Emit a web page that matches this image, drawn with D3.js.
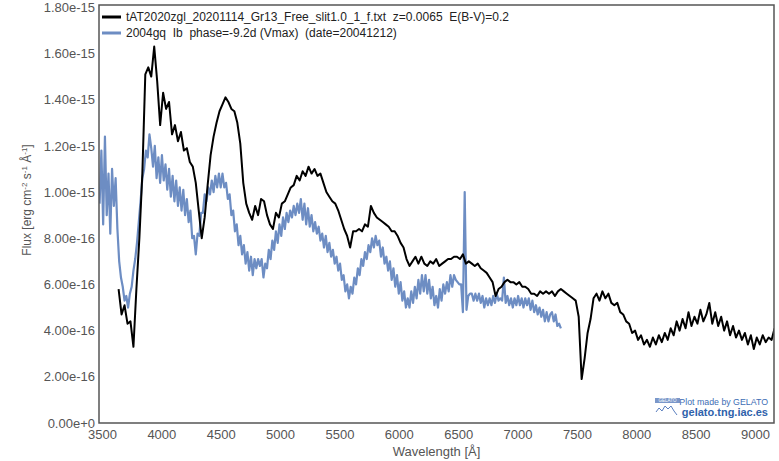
<!DOCTYPE html>
<html>
<head>
<meta charset="utf-8">
<script src="https://cdn.jsdelivr.net/npm/d3@7/dist/d3.min.js"></script>
<style>
  body { margin: 0; background: #fff; }
  svg { display: block; font-family: 'Liberation Sans', Arial, sans-serif; }
</style>
</head>
<body>
<div id="spectrum"></div>
<script>
// flux values below are in units of 1e-16 erg/cm2/s/A
const fluxUnit = 1e-16

const targetLabel = 'tAT2020zgl_20201114_Gr13_Free_slit1.0_1_f.txt  z=0.0065  E(B-V)=0.2'
const templateLabel = '2004gq  Ib  phase=-9.2d (Vmax)  (date=20041212)'

// observed spectrum, sampled every 25 A from 3640 A
const targetStart = 3640
const targetStep = 25
const targetFlux = [
  5.8, 4.7, 5.1, 4.3, 4.4, 3.3, 5.8, 8.0, 10.8, 15.1,
  15.4, 15.0, 16.3, 14.8, 12.9, 14.3, 13.6, 13.9, 12.5, 12.9,
  12.2, 12.6, 11.8, 11.9, 11.3, 11.1, 10.4, 9.2, 8.0, 8.9,
  10.3, 11.6, 12.4, 13.0, 13.5, 13.8, 14.1, 13.9, 13.6, 13.5,
  13.0, 12.1, 10.4, 9.5, 9.1, 8.8, 9.4, 9.0, 9.7, 9.6,
  9.0, 8.6, 8.4, 9.1, 8.9, 9.5, 9.6, 9.9, 10.2, 10.3,
  10.7, 10.5, 10.9, 10.7, 11.1, 10.8, 11.0, 10.7, 10.8, 10.4,
  10.0, 9.8, 9.6, 9.5, 9.2, 8.8, 8.4, 8.1, 7.6, 8.3,
  8.3, 8.4, 8.3, 8.6, 8.5, 9.4, 9.1, 8.9, 8.8, 8.7,
  8.6, 8.5, 8.3, 8.3, 8.1, 7.8, 7.6, 7.1, 6.8, 7.0,
  7.2, 6.9, 7.2, 6.9, 6.8, 7.0, 6.9, 7.1, 6.8, 6.9,
  7.0, 7.1, 7.1, 7.2, 7.2, 7.1, 7.3, 6.9, 7.0, 6.9,
  6.8, 6.9, 6.7, 6.6, 6.5, 6.3, 6.1, 5.5, 5.8, 5.9,
  6.1, 6.2, 6.1, 6.1, 6.0, 6.1, 5.9, 5.9, 5.8, 5.6,
  5.6, 5.5, 5.7, 5.6, 5.7, 5.6, 5.7, 5.5, 5.7, 5.8,
  5.7, 5.6, 5.5, 5.4, 5.3, 4.6, 1.9, 2.8, 3.9, 4.5,
  5.4, 5.6, 5.3, 5.7, 5.4, 5.6, 5.2, 5.1, 5.2, 4.8,
  4.7, 4.4, 4.3, 3.9, 4.0, 3.6, 3.8, 3.4, 3.6, 3.3,
  3.7, 3.4, 3.8, 3.5, 3.9, 3.6, 4.1, 3.8, 4.4, 4.0,
  4.5, 4.1, 4.8, 4.2, 4.6, 4.3, 4.9, 4.4, 4.7, 5.2,
  4.3, 4.8, 4.2, 4.6, 4.0, 4.4, 3.8, 4.2, 3.7, 4.0,
  3.6, 3.9, 3.4, 3.8, 3.2, 3.7, 3.4, 3.8, 3.5, 3.7,
  3.6, 4.1
]

// SN 2004gq template, sampled every 15 A from 3480 A
const templateStart = 3480
const templateStep = 15
const templateFlux = [
  9.5, 11.8, 8.6, 12.4, 9.0, 10.8, 8.2, 11.0, 9.4, 10.6,
  8.4, 7.0, 6.3, 5.9, 5.3, 5.5, 5.0, 5.6, 5.9, 6.6,
  7.1, 7.8, 8.7, 9.6, 10.6, 11.0, 11.8, 11.5, 12.5, 11.9,
  11.1, 12.0, 10.6, 11.5, 10.4, 11.6, 10.5, 11.2, 10.1, 11.0,
  9.8, 10.7, 9.6, 10.5, 9.4, 10.2, 9.2, 10.1, 9.0, 9.7,
  8.7, 9.2, 8.0, 8.1, 7.3, 8.2, 8.1, 9.1, 9.1, 9.9,
  9.6, 10.2, 9.9, 10.5, 10.0, 10.7, 10.2, 10.8, 10.2, 10.8,
  10.2, 10.4, 9.7, 9.9, 9.0, 9.2, 8.3, 8.6, 7.7, 8.1,
  7.3, 7.7, 6.9, 7.4, 6.6, 7.2, 6.4, 7.1, 6.7, 7.1,
  6.8, 7.1, 6.3, 6.9, 6.7, 7.5, 7.1, 7.9, 7.5, 8.3,
  7.8, 8.6, 8.1, 8.9, 8.4, 9.1, 8.7, 9.2, 8.9, 9.4,
  9.0, 9.5, 9.1, 9.7, 8.8, 9.5, 8.6, 9.3, 8.5, 9.0,
  8.3, 8.7, 8.2, 8.5, 7.9, 8.2, 7.6, 8.1, 7.4, 7.8,
  7.2, 7.5, 6.9, 7.2, 6.6, 6.9, 6.2, 6.4, 5.7, 6.0,
  5.4, 5.9, 5.6, 6.3, 6.0, 6.7, 6.4, 7.1, 6.8, 7.4,
  7.1, 7.7, 7.4, 8.0, 7.6, 8.1, 7.7, 7.9, 7.2, 7.6,
  6.9, 7.2, 6.6, 7.0, 6.2, 6.7, 5.9, 6.4, 5.6, 6.1,
  5.3, 5.7, 5.0, 5.4, 5.0, 5.7, 5.2, 5.9, 5.4, 6.2,
  5.6, 6.4, 5.7, 6.4, 5.6, 6.2, 5.4, 5.9, 5.1, 5.5,
  5.0, 5.8, 5.3, 6.0, 5.6, 6.1, 5.7, 6.4, 5.9, 6.4,
  6.2, 6.1, 6.0, 6.0, 4.8, 10.0, 4.9, 5.5, 5.6, 5.6,
  5.3, 5.6, 5.3, 5.6, 5.2, 5.5, 5.0, 5.4, 5.1, 5.4,
  5.1, 5.5, 5.2, 5.6, 5.3, 5.4, 5.3, 6.3, 5.2, 5.5,
  5.1, 5.4, 5.0, 5.4, 5.1, 5.5, 5.1, 5.4, 5.0, 5.4,
  5.1, 5.4, 4.9, 5.3, 4.8, 5.1, 4.7, 5.0, 4.6, 4.9,
  4.4, 4.8, 4.4, 4.7, 4.8, 4.4, 4.7, 4.2, 4.3, 4.1
]

const xTicks = [3500, 4000, 4500, 5000, 5500, 6000, 6500, 7000, 7500, 8000, 8500, 9000]
const yTicks = [0, 2e-16, 4e-16, 6e-16, 8e-16, 1e-15, 1.2e-15, 1.4e-15, 1.6e-15, 1.8e-15]

const width = 779
const height = 461
const plot = { left: 99, top: 5, right: 774, bottom: 423 }

const svg = d3.select('#spectrum')
  .append('svg')
  .attr('width', width)
  .attr('height', height)

const x = d3.scaleLinear()
  .domain([3475, 9160])
  .range([plot.left, plot.right])

const y = d3.scaleLinear()
  .domain([0, 1.81e-15])
  .range([plot.bottom, plot.top])

const toPoints = (start, step, values) => values.map((f, i) => ({ wave: start + i * step, flux: f * fluxUnit }))

const target = toPoints(targetStart, targetStep, targetFlux)
const template = toPoints(templateStart, templateStep, templateFlux)

svg.append('clipPath')
  .attr('id', 'clip')
  .append('rect')
  .attr('x', plot.left)
  .attr('y', plot.top)
  .attr('width', plot.right - plot.left)
  .attr('height', plot.bottom - plot.top)

const line = d3.line()
  .x(d => x(d.wave))
  .y(d => y(d.flux))

// axes without tick marks, only labels
const xAxis = svg.append('g')
  .attr('transform', 'translate(0,' + plot.bottom + ')')
  .call(d3.axisBottom(x).tickValues(xTicks).tickSize(0).tickPadding(7).tickFormat(d3.format('d')))
xAxis.select('.domain').remove()

const yAxis = svg.append('g')
  .attr('transform', 'translate(' + plot.left + ',0)')
  .call(d3.axisLeft(y).tickValues(yTicks).tickSize(0).tickPadding(4).tickFormat(d3.format('.2e')))
yAxis.select('.domain').remove()

svg.selectAll('.tick text')
  .style('font-size', '13px')
  .style('fill', '#555')
  .style('font-family', "'Liberation Sans', Arial, sans-serif")

const lines = svg.append('g').attr('clip-path', 'url(#clip)')

lines.append('path')
  .datum(template)
  .attr('d', line)
  .style('fill', 'none')
  .style('stroke', '#6d8dc3')
  .style('stroke-width', 2.2)
  .style('stroke-linejoin', 'round')

lines.append('path')
  .datum(target)
  .attr('d', line)
  .style('fill', 'none')
  .style('stroke', '#000')
  .style('stroke-width', 2)
  .style('stroke-linejoin', 'round')

// frame
svg.append('rect')
  .attr('x', plot.left)
  .attr('y', plot.top)
  .attr('width', plot.right - plot.left)
  .attr('height', plot.bottom - plot.top)
  .style('fill', 'none')
  .style('stroke', '#555')
  .style('stroke-width', 1.5)

// axis titles
svg.append('text')
  .attr('x', (plot.left + plot.right) / 2)
  .attr('y', 456)
  .attr('text-anchor', 'middle')
  .style('font-size', '13px')
  .style('fill', '#555')
  .text('Wavelength [Å]')

const yTitle = svg.append('text')
  .attr('transform', 'translate(31,200) rotate(-90)')
  .attr('text-anchor', 'middle')
  .style('font-size', '12px')
  .style('fill', '#555')
yTitle.append('tspan').text('Flux [erg cm')
yTitle.append('tspan').attr('baseline-shift', 'super').style('font-size', '8px').text('-2')
yTitle.append('tspan').text(' s')
yTitle.append('tspan').attr('baseline-shift', 'super').style('font-size', '8px').text('-1')
yTitle.append('tspan').text(' Å')
yTitle.append('tspan').attr('baseline-shift', 'super').style('font-size', '8px').text('-1')
yTitle.append('tspan').text(']')

// legend
const legend = svg.append('g')
const legendItems = [
  { label: targetLabel, color: '#000' },
  { label: templateLabel, color: '#6d8dc3' }
]
legendItems.forEach(function (d, i) {
  const ly = 17 + i * 16
  legend.append('line')
    .attr('x1', 102).attr('x2', 121)
    .attr('y1', ly).attr('y2', ly)
    .style('stroke', d.color)
    .style('stroke-width', 3)
  legend.append('text')
    .attr('x', 126)
    .attr('y', ly)
    .attr('dy', '0.35em')
    .style('font-size', '12px')
    .style('fill', '#222')
    .style('white-space', 'pre')
    .text(d.label)
})

// GELATO credit
const credit = svg.append('g')
credit.append('rect')
  .attr('x', 655).attr('y', 398)
  .attr('width', 25).attr('height', 5)
  .style('fill', '#7b97c9')
credit.append('text')
  .attr('x', 667.5).attr('y', 402.2)
  .attr('text-anchor', 'middle')
  .style('font-size', '4.5px')
  .style('fill', '#fff')
  .text('GELATO')
credit.append('path')
  .attr('d', 'M656,412 L659,408 L662,411 L665,406 L668,409 L671,406 L674,411 L677,415')
  .style('fill', 'none')
  .style('stroke', '#5b7fbf')
  .style('stroke-width', 1)
credit.append('text')
  .attr('x', 768).attr('y', 405)
  .attr('text-anchor', 'end')
  .style('font-size', '8.8px')
  .style('fill', '#3d6db4')
  .text('Plot made by GELATO')
credit.append('text')
  .attr('x', 768).attr('y', 416)
  .attr('text-anchor', 'end')
  .style('font-size', '11px')
  .style('font-weight', 'bold')
  .style('fill', '#2f62ab')
  .text('gelato.tng.iac.es')
</script>
</body>
</html>
